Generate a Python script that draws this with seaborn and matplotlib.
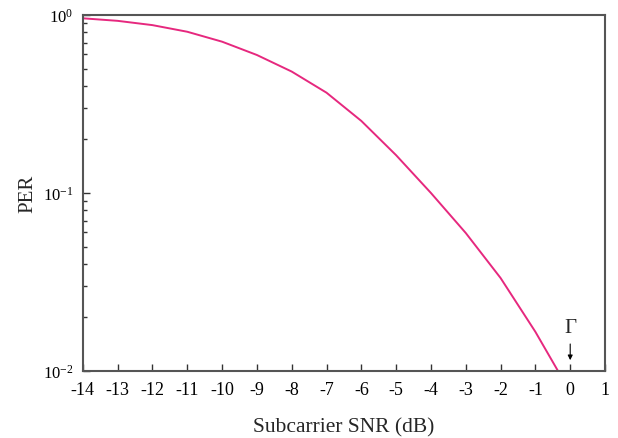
import numpy as np
import pandas as pd
import seaborn as sns
from matplotlib import pyplot as plt
from matplotlib import ticker

# values
snr = [-14, -13, -12, -11, -10, -9, -8, -7, -6, -5, -4, -3, -2, -1, -0.35]
per = [0.958, 0.927, 0.877, 0.805, 0.708, 0.596, 0.481, 0.366, 0.254, 0.163,
       0.100, 0.0596, 0.0333, 0.0166, 0.0100]
xticks = list(range(-14, 2))
gamma_x = 0

df = pd.DataFrame({"snr": snr, "per": per})

sns.set_style("ticks")
plt.rcParams['font.family'] = ['Liberation Serif', 'DejaVu Serif']
plt.rcParams['mathtext.fontset'] = 'custom'
plt.rcParams['mathtext.rm'] = 'Liberation Serif'
plt.rcParams['mathtext.it'] = 'Liberation Serif:italic'

fig = plt.figure(figsize=(6.18, 4.39), dpi=100)
ax = fig.add_axes([0.134, 0.1526, 0.845, 0.811])

sns.lineplot(data=df, x="snr", y="per", ax=ax, color="#e6287e", linewidth=1.4)

ax.set_yscale("log")
ax.set_xlim(-14, 1)
ax.set_ylim(0.01, 1)
ax.set_xticks(xticks)
ax.set_xticklabels([str(t) for t in xticks])
ax.yaxis.set_major_locator(ticker.FixedLocator([0.01, 0.1, 1]))
ax.yaxis.set_major_formatter(ticker.FixedFormatter([r"$10^{-2}$", r"$10^{-1}$", r"$10^{0}$"]))
ax.yaxis.set_minor_locator(ticker.LogLocator(base=10, subs=np.arange(2, 10)))
ax.yaxis.set_minor_formatter(ticker.NullFormatter())

ax.tick_params(axis="both", which="both", direction="in", colors="#333333",
               labelcolor="black")
ax.tick_params(axis="x", labelsize=13, pad=7)
ax.tick_params(axis="y", labelsize=12, pad=7)
ax.tick_params(axis="both", which="major", length=5, width=1)
ax.tick_params(axis="y", which="minor", length=3, width=1)
for s in ax.spines.values():
    s.set_color("#555555")
    s.set_linewidth(1.5)

ax.set_xlabel("Subcarrier SNR (dB)", fontsize=15.5, va="center")
ax.xaxis.set_label_coords(0.5, -0.158)
ax.set_ylabel("PER", fontsize=15, va="center")
ax.yaxis.set_label_coords(-0.106, 0.5)

# Γ threshold marker
ax.annotate("", xy=(gamma_x, 0.0111), xytext=(gamma_x, 0.0147),
            arrowprops=dict(arrowstyle="-|>", color="black", lw=0.8,
                            mutation_scale=7))
ax.text(gamma_x, 0.0175, "Γ", ha="center", va="center", fontsize=15)

plt.savefig("out.png", dpi=100)
